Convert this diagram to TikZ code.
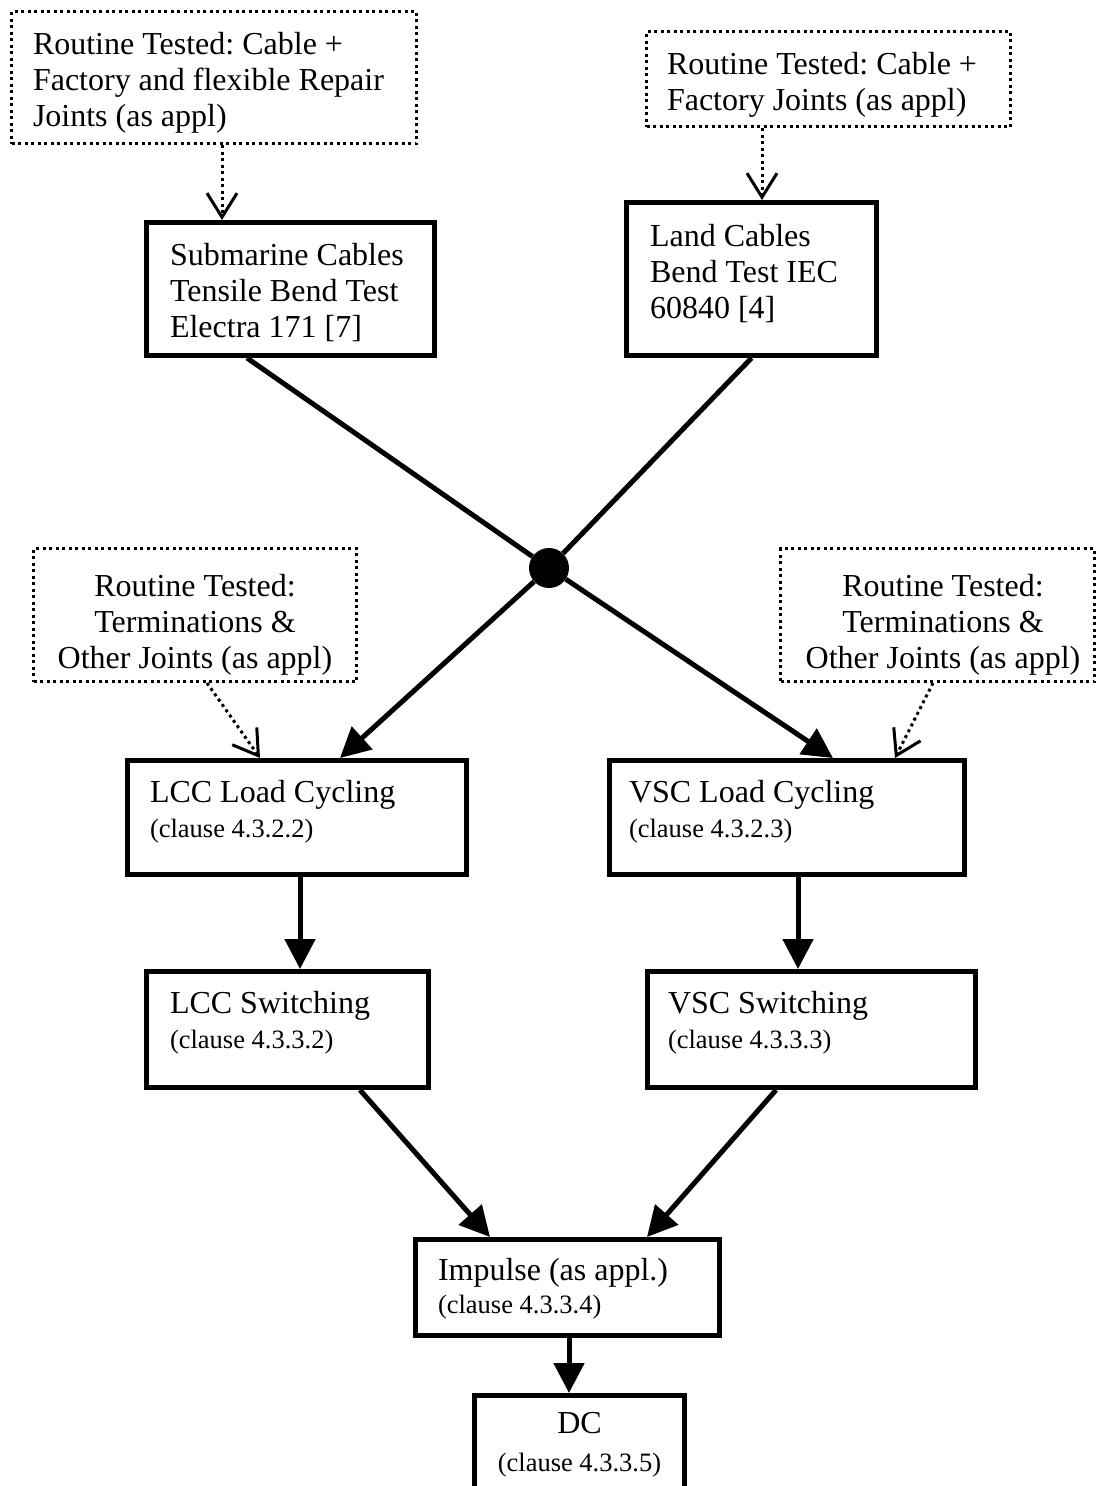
\documentclass[tikz,border=0pt]{standalone}
\usepackage{fontspec}
\setmainfont{Liberation Serif}
\usetikzlibrary{arrows.meta,calc}
\frenchspacing
\newcommand\mainsz{\fontsize{32pt}{36pt}\selectfont}
\newcommand\smallsz{\fontsize{26.5pt}{35pt}\selectfont}
\newcommand\smallszb{\fontsize{26.5pt}{38pt}\selectfont}
% left-aligned box text: width, height, left pad, first baseline, text
\newcommand\bt[5]{\parbox[c][#2][t]{#1}{\mainsz\frenchspacing\parindent=0pt\leftskip=#3\rightskip=0pt plus 1fil\vspace*{\dimexpr #4-\ht\strutbox\relax}\strut #5\par}}
% centred box text: width, height, shift, first baseline, text
\newcommand\bc[5]{\parbox[c][#2][t]{#1}{\mainsz\frenchspacing\centering\leftskip=#3 plus 1fil\vspace*{\dimexpr #4-\ht\strutbox\relax}\strut #5\par}}
\tikzset{
  solidbox/.style={draw, line width=5pt, inner sep=0pt},
  dotbox/.style={draw, line width=3pt, dash pattern=on 3pt off 3.5pt, inner sep=0pt},
  plainline/.style={line width=5pt},
  conn/.style={line width=5pt, -{Triangle[length=30pt,width=30pt]}},
  dotarrow/.style={line width=3pt, dash pattern=on 3pt off 3.5pt, -{Straight Barb[length=24pt,width=30pt]}},
}
\begin{document}
\begin{tikzpicture}[x=1pt,y=-1pt]
\useasboundingbox (0,0) rectangle (1099,1486);
\clip (0,0) rectangle (1099,1486);
% top dotted boxes
\node[dotbox] (tl) at (214,77.5) {\bt{405pt}{132pt}{21.5pt}{42.5pt}{Routine Tested: Cable +\\Factory and flexible Repair\\Joints (as appl)}};
\node[dotbox] (tr) at (828.5,79) {\bt{364pt}{95pt}{20.5pt}{42.5pt}{Routine Tested: Cable +\\Factory Joints (as appl)}};
% bend test boxes
\node[solidbox] (sub) at (290.5,289) {\bt{288pt}{133pt}{23.5pt}{42.5pt}{Submarine Cables\\Tensile Bend Test\\Electra 171 [7]}};
\node[solidbox] (land) at (751.5,279) {\bt{250pt}{153pt}{23.5pt}{43.5pt}{Land Cables\\Bend Test IEC\\60840 [4]}};
% junction dot
\node[circle, fill=black, inner sep=0pt, minimum size=40pt] (dot) at (549,568) {};
% middle dotted boxes
\node[dotbox] (lmid) at (195,615) {\bc{323pt}{133pt}{0pt}{47.5pt}{Routine Tested:\\Terminations \&\\Other Joints (as appl)}};
\node[dotbox] (rmid) at (937.5,615) {\bc{314pt}{133pt}{11pt}{47.5pt}{Routine Tested:\\Terminations \&\\Other Joints (as appl)}};
% load cycling
\node[solidbox] (lccl) at (296.75,817.5) {\bt{338.5pt}{114pt}{22.5pt}{41.5pt}{LCC Load Cycling\par\smallsz(clause 4.3.2.2)}};
\node[solidbox] (vscl) at (786.75,817.5) {\bt{354.5pt}{114pt}{19.5pt}{41.5pt}{VSC Load Cycling\par\smallsz(clause 4.3.2.3)}};
% switching
\node[solidbox] (lccs) at (287.25,1029.5) {\bt{281.5pt}{116pt}{23.5pt}{41.5pt}{LCC Switching\par\smallsz(clause 4.3.3.2)}};
\node[solidbox] (vscs) at (811.25,1029.5) {\bt{327.5pt}{116pt}{20.5pt}{41.5pt}{VSC Switching\par\smallsz(clause 4.3.3.3)}};
% impulse
\node[solidbox] (imp) at (567.5,1287.5) {\bt{304pt}{96pt}{22.5pt}{40.5pt}{Impulse (as appl.)\par\fontsize{26.5pt}{33pt}\selectfont(clause 4.3.3.4)}};
% DC
\node[solidbox] (dc) at (579.5,1460.5) {\bc{210pt}{130pt}{0pt}{37.5pt}{DC\par\smallszb(clause 4.3.3.5)}};
% helper x positions
\coordinate (xa) at (222,0);
\coordinate (xb) at (762,0);
\coordinate (xc) at (247,0);
\coordinate (xd) at (340,0);
\coordinate (xe) at (833,0);
\coordinate (xf) at (207,0);
\coordinate (xg) at (260,0);
\coordinate (xh) at (933,0);
\coordinate (xi) at (895,0);
\coordinate (xj) at (300,0);
\coordinate (xk) at (798,0);
\coordinate (xl) at (360,0);
\coordinate (xm) at (490,0);
\coordinate (xn) at (776,0);
\coordinate (xo) at (647,0);
\coordinate (xp) at (569,0);
% connectors
\draw[dotarrow] (tl.south -| xa) -- (sub.north -| xa);
\draw[dotarrow] (tr.south -| xb) -- (land.north -| xb);
\draw[plainline] (sub.south -| xc) -- (dot);
\draw[plainline] (land.south) -- (dot);
\draw[conn] (dot) -- (lccl.north -| xd);
\draw[conn] (dot) -- (vscl.north -| xe);
\draw[dotarrow] (lmid.south -| xf) -- (lccl.north -| xg);
\draw[dotarrow] (rmid.south -| xh) -- (vscl.north -| xi);
\draw[conn] (lccl.south -| xj) -- (lccs.north -| xj);
\draw[conn] (vscl.south -| xk) -- (vscs.north -| xk);
\draw[conn] (lccs.south -| xl) -- (imp.north -| xm);
\draw[conn] (vscs.south -| xn) -- (imp.north -| xo);
\draw[conn] (imp.south -| xp) -- (dc.north -| xp);
\end{tikzpicture}
\end{document}
